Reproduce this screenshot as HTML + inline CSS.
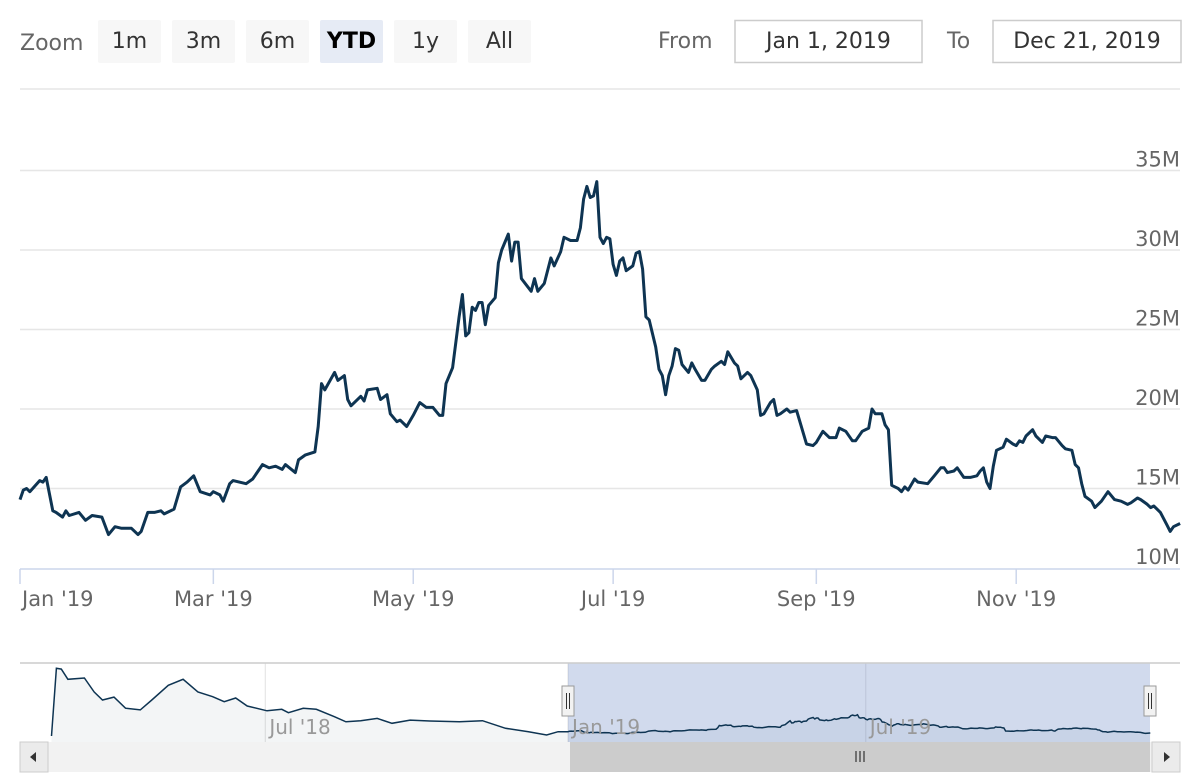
<!DOCTYPE html>
<html><head><meta charset="utf-8"><style>
body{margin:0;background:#fff;width:1200px;height:774px;overflow:hidden;font-family:"DejaVu Sans","Liberation Sans",sans-serif;}
svg{display:block}
</style></head><body>
<svg id="chart" width="1200" height="774" xmlns="http://www.w3.org/2000/svg" font-family="DejaVu Sans, Liberation Sans, sans-serif">
<g>
<text x="20" y="50" font-size="22" fill="#666">Zoom</text>
<g><rect x="98" y="20" width="63" height="43" rx="2" fill="#f7f7f7"/><text x="129.5" y="48" font-size="22" fill="#333" text-anchor="middle">1m</text></g>
<g><rect x="172" y="20" width="63" height="43" rx="2" fill="#f7f7f7"/><text x="203.5" y="48" font-size="22" fill="#333" text-anchor="middle">3m</text></g>
<g><rect x="246" y="20" width="63" height="43" rx="2" fill="#f7f7f7"/><text x="277.5" y="48" font-size="22" fill="#333" text-anchor="middle">6m</text></g>
<g><rect x="320" y="20" width="63" height="43" rx="2" fill="#e6ebf5"/><text x="351.5" y="48" font-size="22" fill="#000" font-weight="bold" text-anchor="middle">YTD</text></g>
<g><rect x="394" y="20" width="63" height="43" rx="2" fill="#f7f7f7"/><text x="425.5" y="48" font-size="22" fill="#333" text-anchor="middle">1y</text></g>
<g><rect x="468" y="20" width="63" height="43" rx="2" fill="#f7f7f7"/><text x="499.5" y="48" font-size="22" fill="#333" text-anchor="middle">All</text></g>
<text x="658" y="48" font-size="22" fill="#666">From</text>
<g><rect x="735" y="20.5" width="187" height="42" fill="#fff" stroke="#ccc" stroke-width="1.5"/><text x="828.5" y="48" font-size="22" fill="#333" text-anchor="middle">Jan 1, 2019</text></g>
<text x="947" y="48" font-size="22" fill="#666">To</text>
<g><rect x="993" y="20.5" width="188" height="42" fill="#fff" stroke="#ccc" stroke-width="1.5"/><text x="1087" y="48" font-size="22" fill="#333" text-anchor="middle">Dec 21, 2019</text></g>
</g>
<line x1="20" y1="89" x2="1180" y2="89" stroke="#e6e6e6" stroke-width="1.5"/>
<g id="grid"></g><g id="xaxis"></g><g id="series"></g><g id="nav"></g>
</svg>
<script>
var days=[0,1,2,3,6,7,8,10,11,13,14,15,18,20,22,25,27,29,31,34,36,37,39,41,43,44,47,49,51,53,55,58,59,61,62,64,65,69,71,74,76,78,80,81,84,85,87,90,91,92,93,96,97,99,100,101,104,105,106,109,110,112,113,115,116,118,120,122,124,126,128,129,130,132,134,135,136,137,138,139,140,141,142,143,145,146,147,149,150,151,152,153,156,157,158,160,162,163,165,166,168,170,171,172,173,174,175,176,177,178,179,180,181,182,183,184,185,187,188,189,190,191,192,194,195,196,197,198,199,200,201,202,204,205,206,208,209,211,212,214,215,216,218,219,220,222,223,225,226,227,229,230,231,232,234,235,237,238,240,242,243,245,247,249,250,252,254,255,257,259,260,261,263,264,265,266,268,269,270,271,273,274,277,279,281,282,283,285,286,288,290,292,293,294,295,296,297,298,300,301,303,304,305,306,307,309,310,312,313,315,316,318,319,321,322,323,324,325,327,328,330,332,334,336,338,339,341,342,344,345,346,348,350,351,352,354];
var values=[14.3,14.9,15.0,14.8,15.5,15.4,15.7,13.6,13.5,13.2,13.6,13.3,13.5,13.0,13.3,13.2,12.1,12.6,12.5,12.5,12.1,12.3,13.5,13.5,13.6,13.4,13.7,15.1,15.4,15.8,14.8,14.6,14.8,14.6,14.2,15.3,15.5,15.3,15.6,16.5,16.3,16.4,16.2,16.5,16.0,16.8,17.1,17.3,18.9,21.6,21.2,22.3,21.8,22.1,20.6,20.2,20.8,20.5,21.2,21.3,20.6,20.9,19.7,19.2,19.3,18.9,19.6,20.4,20.1,20.1,19.6,19.6,21.6,22.6,25.8,27.2,24.6,24.8,26.4,26.2,26.7,26.7,25.3,26.5,27.0,29.2,30.0,31.0,29.3,30.5,30.5,28.2,27.4,28.2,27.4,27.9,29.5,29.0,29.9,30.8,30.6,30.6,31.4,33.2,34.0,33.3,33.4,34.3,30.8,30.4,30.8,30.7,29.1,28.4,29.3,29.5,28.7,29.0,29.8,29.9,28.8,25.8,25.6,23.9,22.5,22.1,20.9,22.1,22.7,23.8,23.7,22.8,22.3,22.9,22.5,21.8,21.8,22.5,22.7,23.0,22.8,23.6,22.9,22.7,21.9,22.3,22.1,21.2,19.6,19.7,20.4,20.6,19.6,19.7,20.0,19.8,19.9,19.2,17.8,17.7,17.9,18.6,18.2,18.2,18.8,18.6,18.0,18.0,18.6,18.8,20.0,19.7,19.7,19.0,18.7,15.2,15.0,14.8,15.1,14.9,15.6,15.4,15.3,15.8,16.3,16.3,16.0,16.1,16.3,15.7,15.7,15.8,16.1,16.3,15.4,15.0,16.4,17.4,17.6,18.1,17.8,17.7,18.0,17.9,18.3,18.7,18.3,17.9,18.3,18.2,18.2,17.7,17.5,17.4,16.5,16.3,15.3,14.5,14.2,13.8,14.2,14.8,14.3,14.2,14.0,14.1,14.4,14.3,14.0,13.8,13.9,13.5,12.7,12.3,12.6,12.8];
var navDays=[-314,-311,-308,-304,-294,-288,-283,-276,-269,-260,-253,-243,-234,-225,-216,-209,-202,-195,-183,-174,-170,-161,-153,-142,-135,-126,-116,-107,-96,-84,-66,-52,-38,-24,-13,-6];
var navValues=[9.3,89,88,76,77.5,61,51.6,55,42,40,51.6,69,76,61,55.5,49.6,54,44.6,39,40.7,36.7,41.9,40.7,32,26,27.3,30,24.2,28,27,26,27.3,18.3,14.4,10.5,14.4];
var yTicks=[10,15,20,25,30,35];
var yTickLabels=["10M","15M","20M","25M","30M","35M"];
var xTickDays=[0,59,120,181,243,304];
var xTickLabels=["Jan '19","Mar '19","May '19","Jul '19","Sep '19","Nov '19"];
var navTickDays=[-184,0,181];
var navTickLabels=["Jul '18","Jan '19","Jul '19"];

var NS="http://www.w3.org/2000/svg";
function X(d){return 20+d*3.277;}
function Y(v){return 568-(v-10)*15.9;}
function NX(d){return 568+d*1.645;}
function NY(v){return 732-(v-14)*0.85;}
function mk(p,tag,attrs,txt){var e=document.createElementNS(NS,tag);for(var k in attrs)e.setAttribute(k,attrs[k]);if(txt!=null)e.textContent=txt;p.appendChild(e);return e;}
var grid=document.getElementById('grid'),xa=document.getElementById('xaxis'),se=document.getElementById('series'),nav=document.getElementById('nav');
yTicks.forEach(function(t,i){
  if(t>10){var l=mk(grid,'line',{x1:20,x2:1180,y1:Y(t),y2:Y(t),stroke:'#e6e6e6','stroke-width':1.5});
  
  }
  var tx=mk(grid,'text',{x:1180,y:Y(t)-4,'font-size':21,fill:'#666','text-anchor':'end'},yTickLabels[i]);
  
  
});
var ax=mk(xa,'line',{x1:20,x2:1180,y1:569,y2:569,stroke:'#ccd6eb','stroke-width':1.5});


xTickDays.forEach(function(d,i){
  var tk=mk(xa,'line',{x1:X(d),x2:X(d),y1:569,y2:584,stroke:'#ccd6eb','stroke-width':1.5});
  
  
  var anchor=i===0?'start':'middle';var xx=i===0?X(d)+2:X(d);
  var tx=mk(xa,'text',{x:xx,y:606,'font-size':21,fill:'#666','text-anchor':anchor},xTickLabels[i]);
  
  
});
var pts=days.map(function(d,i){return X(d).toFixed(1)+','+Y(values[i]).toFixed(1);});
var line=mk(se,'polyline',{points:pts.join(' '),fill:'none',stroke:'#0e3452','stroke-width':3,'stroke-linejoin':'round'});



// navigator
var nb=mk(nav,'rect',{x:48,y:663,width:1102,height:79,fill:'#fff'});
navTickDays.forEach(function(d,i){
  var g=mk(nav,'line',{x1:NX(d),x2:NX(d),y1:663,y2:742,stroke:'#e6e6e6','stroke-width':1.2});
  
  
});
var npts=[];
navDays.forEach(function(d,i){npts.push(NX(d).toFixed(1)+','+NY(navValues[i]).toFixed(1));});
days.forEach(function(d,i){npts.push(NX(d).toFixed(1)+','+NY(values[i]).toFixed(1));});
var area=mk(nav,'polygon',{points:NX(navDays[0]).toFixed(1)+',742 '+npts.join(' ')+' '+NX(days[days.length-1]).toFixed(1)+',742',fill:'#0e3452','fill-opacity':0.05});


var mask=mk(nav,'rect',{x:568,y:663,width:582,height:79,fill:'rgba(102,133,194,0.3)'});


var nl=mk(nav,'polyline',{points:npts.join(' '),fill:'none',stroke:'#0e3452','stroke-width':1.5});


navTickDays.forEach(function(d,i){
  var t=mk(nav,'text',{x:NX(d)+4,y:734,'font-size':20,fill:'#999'},navTickLabels[i]);
  
  
});
var ol=mk(nav,'line',{x1:20,x2:1180,y1:663,y2:663,stroke:'#cccccc','stroke-width':1.5});


[568,1150].forEach(function(hx){
  var h=mk(nav,'g',{});
  
  
  mk(h,'rect',{x:hx-6,y:686,width:12,height:30,fill:'#f2f2f2',stroke:'#999','stroke-width':1});
  mk(h,'line',{x1:hx-1.5,x2:hx-1.5,y1:693,y2:709,stroke:'#333','stroke-width':1});
  mk(h,'line',{x1:hx+1.5,x2:hx+1.5,y1:693,y2:709,stroke:'#333','stroke-width':1});
});
// scrollbar
var sb=mk(nav,'rect',{x:20,y:742,width:1160,height:30,fill:'#f2f2f2'});


var th=mk(nav,'rect',{x:570,y:742,width:580,height:30,fill:'#cccccc'});


[856,860,864].forEach(function(lx){mk(nav,'line',{x1:lx,x2:lx,y1:751,y2:762,stroke:'#333','stroke-width':1.2});});
var lb=mk(nav,'g',{});


mk(lb,'rect',{x:20,y:742,width:28,height:30,fill:'#ebebeb',stroke:'#ccc','stroke-width':1});
mk(lb,'polygon',{points:'30,757 36,752 36,762',fill:'#333'});
var rb=mk(nav,'g',{});


mk(rb,'rect',{x:1152,y:742,width:28,height:30,fill:'#ebebeb',stroke:'#ccc','stroke-width':1});
mk(rb,'polygon',{points:'1170,757 1164,752 1164,762',fill:'#333'});
</script>
</body></html>
